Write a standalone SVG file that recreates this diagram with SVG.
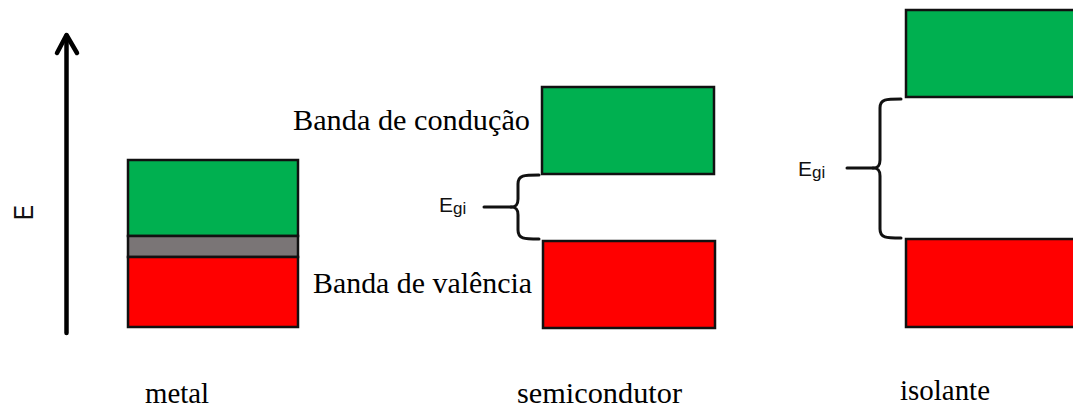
<svg xmlns="http://www.w3.org/2000/svg" width="1073" height="411" viewBox="0 0 1073 411">
<style>
.band{stroke:#111;stroke-width:2.5}
.cb{fill:#00b050}
.vb{fill:#ff0000}
.gap{fill:#7a7576}
.serif{font-family:"Liberation Serif","Times New Roman",serif;fill:#000}
.sans{font-family:"Liberation Sans",Arial,sans-serif;fill:#111}
.brace{fill:none;stroke:#111;stroke-width:3;stroke-linecap:round;stroke-linejoin:round}
.axis{fill:none;stroke:#000;stroke-width:4.5;stroke-linecap:round;stroke-linejoin:round}
</style>
<rect width="1073" height="411" fill="#fff"/>
<g id="axis">
<path class="axis" d="M66.5,333 L66.5,36"/>
<path class="axis" d="M57,53 L66.5,35 L77,53"/>
<text class="sans" font-size="28" textLength="15" lengthAdjust="spacingAndGlyphs" transform="translate(33,220) rotate(-90)">E</text>
</g>
<g id="metal">
<rect class="band cb" x="128" y="160" width="170" height="76"/>
<rect class="band gap" x="128" y="236" width="170" height="21"/>
<rect class="band vb" x="128" y="257" width="170" height="70"/>
<text class="serif" x="145" y="403" font-size="29" textLength="64" lengthAdjust="spacingAndGlyphs">metal</text>
</g>
<g id="semicondutor">
<rect class="band cb" x="542" y="87" width="172" height="87"/>
<rect class="band vb" x="543" y="241" width="172" height="87"/>
<text class="serif" x="293" y="130" font-size="29" textLength="237" lengthAdjust="spacingAndGlyphs">Banda de condução</text>
<text class="serif" x="313" y="293" font-size="29" textLength="219" lengthAdjust="spacingAndGlyphs">Banda de valência</text>
<text class="sans" x="439" y="212" font-size="21">E<tspan font-size="17" dy="2">gi</tspan></text>
<text class="serif" x="517" y="403" font-size="29" textLength="165" lengthAdjust="spacingAndGlyphs">semicondutor</text>
</g>
<g id="isolante">
<rect class="band cb" x="906" y="10" width="175" height="87"/>
<rect class="band vb" x="906" y="239" width="175" height="88"/>
<text class="sans" x="798" y="176" font-size="21">E<tspan font-size="17" dy="2">gi</tspan></text>
<text class="serif" x="900" y="400" font-size="29" textLength="90" lengthAdjust="spacingAndGlyphs">isolante</text>
</g>
<g id="connectors">
<path class="brace" d="M539,175 C524,175 518,175 518,184 L518,199 C518,205 516,207 511,207 C516,207 518,209 518,215 L518,230 C518,239 524,239 539,239"/>
<path class="brace" d="M484,207 L511,207"/>
<path class="brace" d="M901,99 C886,99 880,99 880,108 L880,160 C880,166 878,168 873,168 C878,168 880,170 880,176 L880,229 C880,238 886,238 901,238"/>
<path class="brace" d="M847,168 L873,168"/>
</g>
</svg>
